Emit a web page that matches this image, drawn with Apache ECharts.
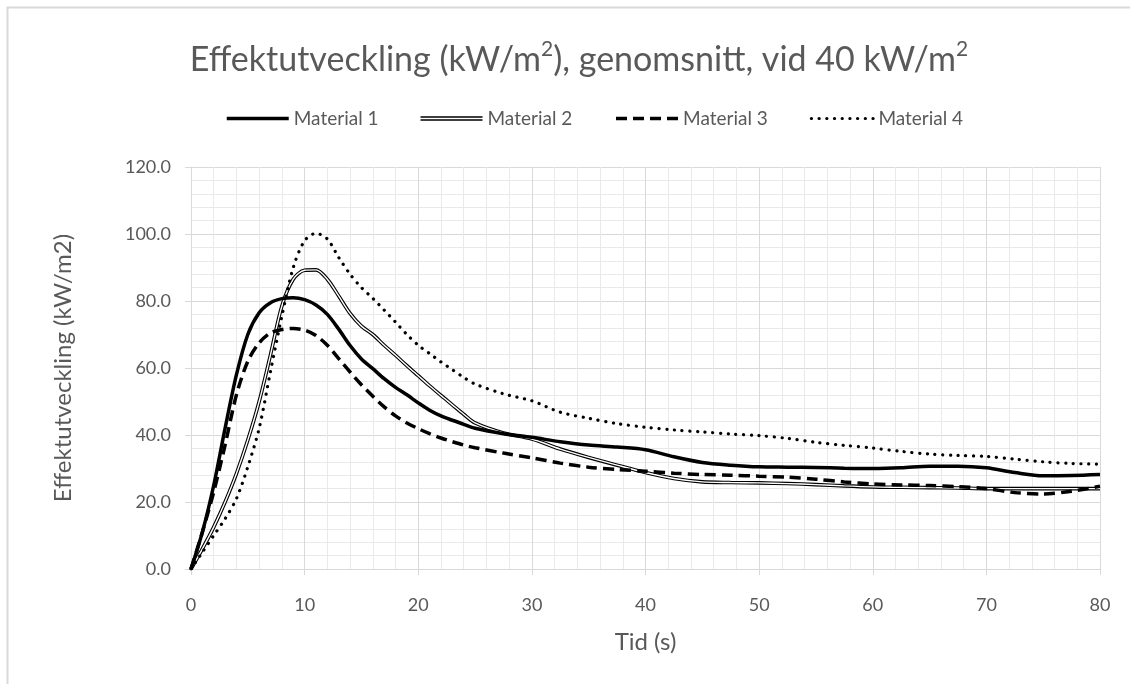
<!DOCTYPE html>
<html>
<head>
<meta charset="utf-8">
<script src="https://cdn.jsdelivr.net/npm/echarts@6/dist/echarts.min.js"></script>
<style>
  html, body { margin: 0; padding: 0; background: #ffffff; }
  #chart { width: 1130px; height: 684px; }
</style>
</head>
<body>
<div id="chart"></div>
<script>
// Time axis (s): every second up to 25 s, then every 2.5 s
const tid = [0, 1, 2, 3, 4, 5, 6, 7, 8, 9, 10, 11, 12, 13, 14, 15, 16, 17, 18, 19, 20,
  21, 22, 23, 24, 25, 27.5, 30, 32.5, 35, 37.5, 40, 42.5, 45, 47.5, 50, 52.5, 55, 57.5,
  60, 62.5, 65, 67.5, 70, 72.5, 75, 77.5, 80];

// Heat release rate (kW/m2), averaged
const material1 = [0, 11, 25, 42, 58, 70, 76.5, 79.5, 80.7, 81, 80.4, 78.8, 76, 71.6, 66.7,
  62.7, 59.8, 56.8, 54.2, 52, 49.6, 47.4, 45.7, 44.4, 43.2, 42, 40.4, 39.3, 38, 37, 36.4,
  35.6, 33.5, 31.8, 31, 30.5, 30.4, 30.3, 30.1, 30, 30.2, 30.7, 30.7, 30.2, 28.8, 27.8, 27.9, 28.2];
const material2 = [0, 6, 12.5, 20, 28.5, 38.5, 50, 64, 78.5, 86.5, 89.2, 89.3, 86.5, 81.5, 76.3,
  72.5, 70, 66.8, 63.8, 60.7, 57.7, 54.7, 51.8, 49, 46.2, 43.6, 40.6, 38.8, 35.8, 33.3, 31,
  28.8, 27, 26, 25.8, 25.7, 25.5, 25.2, 24.8, 24.5, 24.4, 24.3, 24.2, 24, 24, 24, 24, 24];
const material3 = [0, 11, 23, 37, 52, 62, 67.5, 70.5, 71.5, 71.8, 71.3, 69.7, 66.8, 62.8, 58.8,
  55, 51.6, 48.4, 45.7, 43.6, 41.9, 40.4, 39.1, 38, 37, 36.2, 34.6, 33.2, 31.6, 30.4, 29.7,
  29.2, 28.6, 28.2, 28, 27.7, 27.4, 26.8, 26, 25.4, 25.1, 24.9, 24.6, 24, 22.8, 22.4, 23.2, 24.7];
const material4 = [0, 5, 10, 15, 21, 30.5, 42, 59, 75.5, 90, 98, 100.2, 98.5, 93, 88,
  84, 80.8, 77.3, 73.7, 70, 66.8, 64.3, 61.8, 59.5, 57.2, 55.2, 52.3, 50.2, 46.8, 45, 43.4,
  42.3, 41.5, 40.9, 40.3, 39.8, 39, 37.8, 36.9, 36.1, 35.1, 34.3, 33.9, 33.6, 32.8, 32, 31.5, 31.3];

const seriesNames = ['Material 1', 'Material 2', 'Material 3', 'Material 4'];

const FONT = 'Lato, "Open Sans", sans-serif';
const TEXT = '#595959';
const MAJOR = '#d9d9d9';
const MINOR = '#e9e9e9';
const SMOOTH = 0.3;

function pairs(values) {
  return tid.map((t, i) => [t, values[i]]);
}

const chart = echarts.init(document.getElementById('chart'), null, { renderer: 'canvas' });

chart.setOption({
  animation: false,
  backgroundColor: '#ffffff',
  graphic: [{
    type: 'rect',
    shape: { x: 7.5, y: 7.5, width: 1300, height: 900 },
    style: { fill: null, stroke: MAJOR, lineWidth: 2 },
    silent: true
  }],
  title: {
    text: 'Effektutveckling (kW/m{s|2}), genomsnitt, vid 40 kW/m{s|2}',
    left: 574,
    top: 34,
    textAlign: 'center',
    textStyle: {
      fontFamily: FONT,
      fontSize: 34,
      fontWeight: 'normal',
      color: TEXT,
      lineHeight: 42,
      rich: {
        s: { fontFamily: FONT, fontSize: 21, color: TEXT, verticalAlign: 'top', lineHeight: 34 }
      }
    }
  },
  legend: {
    top: 104,
    left: 220,
    itemWidth: 62,
    itemHeight: 14,
    itemGap: 42,
    itemStyle: { opacity: 0 },
    textStyle: { fontFamily: FONT, fontSize: 19, color: TEXT },
    data: [
      { name: 'Material 1', lineStyle: { width: 3.5 } },
      { name: 'Material 2', icon: 'path://M0,0M62,14M0,4.8H62V9.2H0Z M0,6.2V7.8H62V6.2Z', itemStyle: { color: '#000', borderWidth: 0, opacity: 1 } },
      { name: 'Material 3', lineStyle: { width: 3.5 } },
      { name: 'Material 4', lineStyle: { width: 3.2 } }
    ]
  },
  grid: { left: 191, right: 30, top: 167, bottom: 115 },
  xAxis: {
    type: 'value',
    min: 0,
    max: 80,
    interval: 10,
    name: 'Tid (s)',
    nameLocation: 'middle',
    nameGap: 61,
    nameTextStyle: { fontFamily: FONT, fontSize: 24, color: TEXT },
    axisLine: { show: true, lineStyle: { color: MAJOR, width: 1 } },
    axisTick: { show: true, length: 6, lineStyle: { color: MAJOR } },
    axisLabel: { fontFamily: FONT, fontSize: 18, color: TEXT, margin: 27 },
    splitLine: { show: true, lineStyle: { color: MAJOR, width: 1 } },
    minorTick: { show: false, splitNumber: 5 },
    minorSplitLine: { show: true, lineStyle: { color: MINOR, width: 1 } }
  },
  yAxis: {
    type: 'value',
    min: 0,
    max: 120,
    interval: 20,
    name: 'Effektutveckling (kW/m2)',
    nameLocation: 'middle',
    nameGap: 116,
    nameTextStyle: { fontFamily: FONT, fontSize: 24, color: TEXT },
    axisLine: { show: true, lineStyle: { color: MAJOR, width: 1 } },
    axisTick: { show: true, length: 6, lineStyle: { color: MAJOR } },
    axisLabel: { fontFamily: FONT, fontSize: 18, color: TEXT, margin: 20, formatter: v => v.toFixed(1) },
    splitLine: { show: true, lineStyle: { color: MAJOR, width: 1 } },
    minorTick: { show: false, splitNumber: 5 },
    minorSplitLine: { show: true, lineStyle: { color: MINOR, width: 1 } }
  },
  series: [
    {
      name: seriesNames[0], type: 'line', data: pairs(material1), smooth: SMOOTH,
      symbol: 'none', z: 5,
      itemStyle: { color: '#000000' },
      lineStyle: { color: '#000000', width: 3.5 }
    },
    {
      name: seriesNames[1], type: 'line', data: pairs(material2), smooth: SMOOTH,
      symbol: 'none', z: 3,
      itemStyle: { color: '#000000' },
      lineStyle: { color: '#000000', width: 3.6 }
    },
    {
      // white core that turns the Material 2 stroke into a double line
      name: 'Material 2 inre', type: 'line', data: pairs(material2), smooth: SMOOTH,
      symbol: 'none', z: 4, silent: true,
      itemStyle: { color: '#ffffff' },
      lineStyle: { color: '#ffffff', width: 1.4 }
    },
    {
      name: seriesNames[2], type: 'line', data: pairs(material3), smooth: SMOOTH,
      symbol: 'none', z: 5,
      itemStyle: { color: '#000000' },
      lineStyle: { color: '#000000', width: 3.5, type: [11, 6] }
    },
    {
      name: seriesNames[3], type: 'line', data: pairs(material4), smooth: SMOOTH,
      symbol: 'none', z: 5,
      itemStyle: { color: '#000000' },
      lineStyle: { color: '#000000', width: 3.2, type: [0.1, 7.6], cap: 'round' }
    }
  ]
});
</script>
</body>
</html>
